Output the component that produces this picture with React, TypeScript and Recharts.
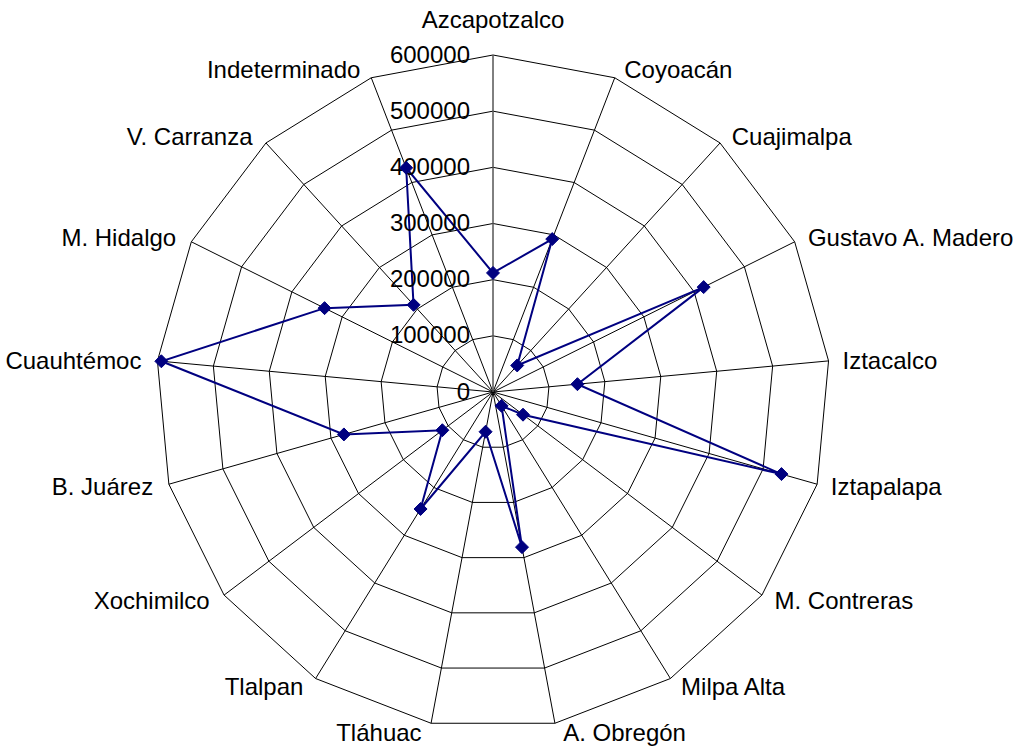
import React from 'react';
import { RadarChart, Radar, PolarGrid, PolarAngleAxis, PolarRadiusAxis } from 'recharts';

const categories: string[] = [
  'Azcapotzalco', 'Coyoacán', 'Cuajimalpa', 'Gustavo A. Madero', 'Iztacalco', 'Iztapalapa',
  'M. Contreras', 'Milpa Alta', 'A. Obregón', 'Tláhuac', 'Tlalpan', 'Xochimilco',
  'B. Juárez', 'Cuauhtémoc', 'M. Hidalgo', 'V. Carranza', 'Indeterminado',
];

const values: number[] = [
  212000, 292000, 64000, 419000, 151000, 534000,
  67000, 29000, 281000, 72000, 245000, 113000,
  276000, 593000, 335000, 210000, 428000,
];

const radiusTicks: number[] = [0, 100000, 200000, 300000, 400000, 500000, 600000];

const data = categories.map((name, i) => ({ name, value: values[i] }));

const FONT = 'Liberation Sans, Arial, Helvetica, sans-serif';
const FS = 24;
const TICK_SIZE = 8;

const AngleTick = (props: any) => {
  const { x, y, payload } = props;
  const rad = (payload.coordinate * Math.PI) / 180;
  const s = Math.cos(rad);
  const c = Math.sin(rad);
  // back to the outer vertex of the grid
  const vx = x - TICK_SIZE * s;
  const vy = y + TICK_SIZE * c;
  let anchor: 'start' | 'middle' | 'end' = 'middle';
  let tx = vx;
  let capCenter = vy - 9 * c;
  if (Math.abs(s) < 0.05) {
    anchor = 'middle';
    capCenter = vy - 35.5;
  } else if (s > 0) {
    anchor = 'start';
    tx = vx + 7 + 7 * Math.abs(s);
  } else {
    anchor = 'end';
    tx = vx - (8 + 8 * Math.abs(s));
  }
  return (
    <text x={tx} y={capCenter + 0.358 * FS} textAnchor={anchor} fontSize={FS} fontFamily={FONT} fill="#000">
      {payload.value}
    </text>
  );
};

const RadiusTick = (props: any) => {
  const { x, y, payload } = props;
  return (
    <text x={x - 23} y={y + 7.6} textAnchor="end" fontSize={FS} fontFamily={FONT} fill="#000">
      {payload.value}
    </text>
  );
};

const Diamond = (props: any) => {
  const { cx, cy, index } = props;
  const r = 6.5;
  return (
    <polygon
      key={`d-${index}`}
      points={`${cx},${cy - r} ${cx + r},${cy} ${cx},${cy + r} ${cx - r},${cy}`}
      fill="#000080"
      stroke="#000080"
      strokeWidth={1}
    />
  );
};

export default function App() {
  return (
    <div style={{ position: 'absolute', left: 0, top: 0, width: 1026, height: 748, background: '#fff' }}>
      <RadarChart
        width={1026}
        height={748}
        data={data}
        cx={493}
        cy={392}
        outerRadius={337}
        startAngle={90}
        endAngle={-270}
        margin={{ top: 0, right: 0, bottom: 0, left: 0 }}
      >
        <PolarGrid gridType="polygon" stroke="#000" strokeWidth={1} strokeOpacity={1} />
        <PolarAngleAxis
          dataKey="name"
          tick={AngleTick}
          tickLine={false}
          axisLine={false}
          tickSize={TICK_SIZE}
        />
        <PolarRadiusAxis
          angle={90}
          domain={[0, 600000]}
          ticks={radiusTicks as any}
          tickCount={7}
          tick={RadiusTick}
          axisLine={{ stroke: '#808080', strokeWidth: 1 }}
          tickLine={false}
        />
        <Radar
          dataKey="value"
          stroke="#000080"
          strokeWidth={2}
          fill="none"
          fillOpacity={0}
          dot={Diamond}
          isAnimationActive={false}
        />
      </RadarChart>
    </div>
  );
}
